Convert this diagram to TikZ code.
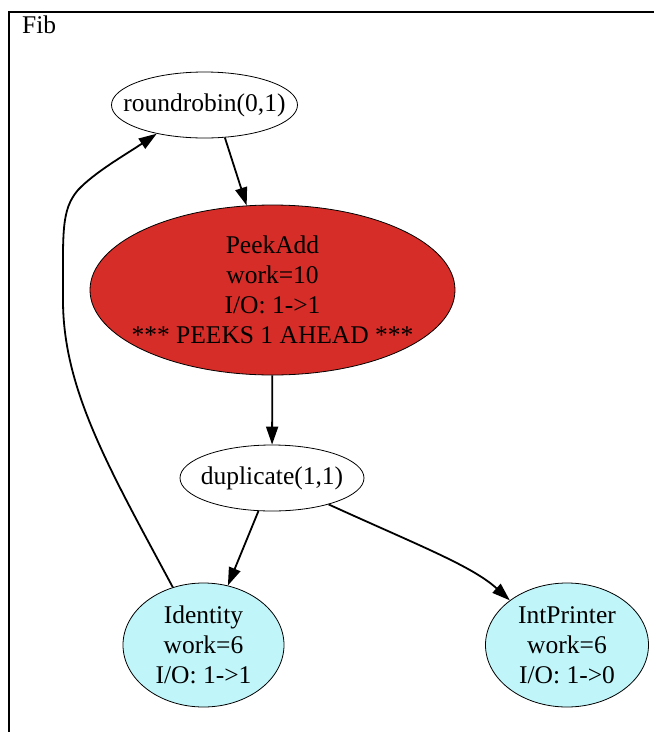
\documentclass[tikz,border=0pt]{standalone}
\usepackage{fontspec}
\setmainfont{Liberation Serif}
\usetikzlibrary{shapes.geometric,arrows.meta}
\definecolor{peekred}{RGB}{214,45,40}
\definecolor{filtcyan}{RGB}{192,246,250}

\begin{document}
\begin{tikzpicture}[x=1pt,y=-1pt,
  filt/.style={draw=black, line width=0.8pt, ellipse, inner sep=0pt},
  txt/.style={align=center, inner sep=0pt, font=\fontsize{25.5}{30}\selectfont},
  edge/.style={black, line width=1.8pt, -{Triangle[length=18pt,width=12pt]}}]
  % page and the Fib frame
  \useasboundingbox (0,0) rectangle (654,732);
  \clip (0,0) rectangle (654,732);
  \draw[black, line width=1.6pt] (9,760) -- (9,12) -- (690,12);
  \node[txt, anchor=base west] (fib) at (22,33) {Fib};
  % filters
  \node[filt, fill=white, minimum width=186pt, minimum height=66pt,
    label={[txt]center:roundrobin(0,1)}] (rr) at (204.5,105) {};
  \node[filt, fill=peekred, minimum width=365pt, minimum height=170pt,
    label={[txt]center:{PeekAdd\\work=10\\I/O: 1->1\\*** PEEKS 1 AHEAD ***}}] (pa) at (272.5,290) {};
  \node[filt, fill=white, minimum width=184pt, minimum height=66pt,
    label={[txt]center:duplicate(1,1)}] (dup) at (272,478) {};
  \node[filt, fill=filtcyan, minimum width=161pt, minimum height=124pt,
    label={[txt]center:{Identity\\work=6\\I/O: 1->1}}] (idn) at (203.5,645) {};
  \node[filt, fill=filtcyan, minimum width=163pt, minimum height=124pt,
    label={[txt]center:{IntPrinter\\work=6\\I/O: 1->0}}] (ip) at (567,645) {};
  % edges
  \draw[edge] (rr.302) -- (pa.107);
  \draw[edge] (pa) -- (dup);
  \draw[edge] (dup) -- (idn);
  \draw[edge] (dup.335) .. controls (420,546) and (472,566) .. (ip.142);
  \draw[edge] (idn.118) .. controls (110,470) and (63,390) .. (63,300)
    .. controls (63,232) and (61,210) .. (78,190)
    .. controls (95,172) and (125,155) .. (rr.211);
\end{tikzpicture}
\end{document}
